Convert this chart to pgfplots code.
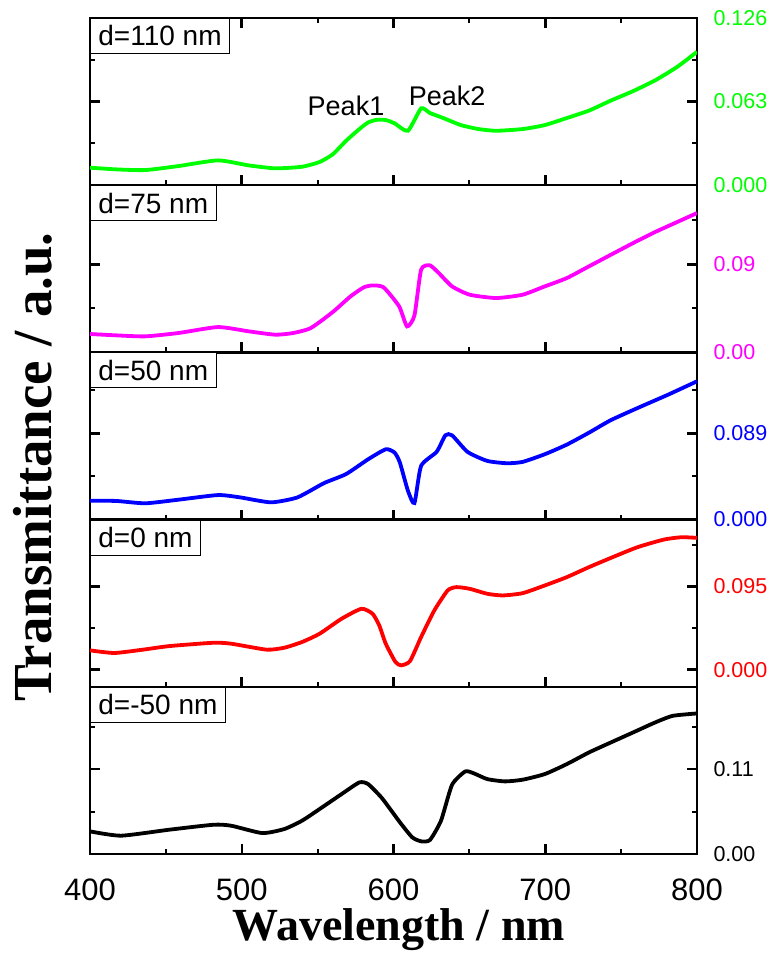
\documentclass[border=0pt]{standalone}
\usepackage{pgfplots}
\pgfplotsset{compat=1.18}
\usepackage{fontspec}
\setmainfont{Liberation Sans}
\newfontfamily\timesf{Liberation Serif}
\definecolor{cgreen}{RGB}{0,255,0}
\definecolor{cmag}{RGB}{255,0,255}
\definecolor{cblue}{RGB}{0,0,255}
\definecolor{cred}{RGB}{255,0,0}
\pgfplotsset{panel/.style={
  width=607pt, height=167.2pt, scale only axis,
  anchor=south west,
  xmin=400, xmax=800,
  axis line style={line width=2.5pt},
  tick align=inside,
  xtick={400,500,600,700,800}, minor x tick num=1,
  minor y tick num=1,
  xtick pos=left,
  ytick pos=both, yticklabel pos=right,
  xticklabels={},
  major tick length=10pt, minor tick length=5pt,
  major tick style={line width=2.5pt, black},
  minor tick style={line width=2pt, black},
  yticklabel style={font=\fontsize{21.5}{24}\selectfont, xshift=13pt},
  every axis plot/.append style={line width=3.8pt, smooth, tension=0.35},
}}
\tikzset{legbox/.style={draw, line width=0.8pt, fill=white, anchor=north west,
  font=\fontsize{28}{30}\selectfont, inner xsep=8pt, inner ysep=4pt, minimum height=35pt}}
\begin{document}
\begin{tikzpicture}
\useasboundingbox (-90pt,-99pt) rectangle (685pt,854pt);
% panel 1 (top)
\begin{axis}[panel, at={(0pt,668.8pt)}, ymin=0, ymax=0.126,
  xtick pos=both,
  ytick={0,0.063,0.126}, yticklabels={0.000,0.063,0.126},
  yticklabel style={text=cgreen}]
\addplot[cgreen] coordinates {
(400,0.0132)(417.5,0.0119)(436.4,0.0114)(458.2,0.0144)(484.4,0.0187)(504.7,0.0149)
(522.2,0.0127)(539.7,0.0139)(551.3,0.0175)(560.0,0.0233)(568.7,0.0334)(577.5,0.0423)
(583.3,0.0473)(589.1,0.0493)(594.9,0.0491)(600.7,0.0466)(609.5,0.0410)(618.2,0.0579)
(624.0,0.0544)(632.8,0.0506)(644.4,0.0453)(656.0,0.0423)(667.7,0.0410)(685.1,0.0423)
(699.7,0.0453)(714.2,0.0506)(728.8,0.0562)(743.3,0.0638)(757.9,0.0709)(772.4,0.0790)
(786.9,0.0891)(800,0.1005)};
\node[legbox] at (rel axis cs:0,1) {d=110 nm};
\node[anchor=base, font=\fontsize{27}{30}\selectfont] at (axis cs:568.7,0.0524) {Peak1};
\node[anchor=base, font=\fontsize{27}{30}\selectfont] at (axis cs:635.3,0.0600) {Peak2};
\end{axis}
% panel 2
\begin{axis}[panel, at={(0pt,501.6pt)}, ymin=0, ymax=0.171,
  ytick={0,0.09,0.18}, yticklabels={0.00,0.09,0.18},
  yticklabel style={text=cmag}]
\addplot[cmag] coordinates {
(400,0.0188)(417.5,0.0174)(436.4,0.0164)(458.2,0.0198)(484.4,0.0259)(504.7,0.0215)
(522.2,0.0181)(533.8,0.0198)(545.5,0.0249)(560.0,0.0413)(571.7,0.0573)(580.4,0.0665)
(586.2,0.0685)(593.5,0.0665)(603.7,0.0471)(608.9,0.0266)(613.8,0.0378)(618.2,0.0846)
(624.0,0.0890)(629.8,0.0812)(638.6,0.0675)(650.2,0.0590)(667.7,0.0556)(685.1,0.0590)
(699.7,0.0675)(714.2,0.0760)(728.8,0.0880)(743.3,0.0999)(757.9,0.1118)(772.4,0.1231)
(786.9,0.1333)(800,0.1425)};
\node[legbox] at (rel axis cs:0,1) {d=75 nm};
\end{axis}
% panel 3
\begin{axis}[panel, at={(0pt,334.4pt)}, ymin=0, ymax=0.1724,
  ytick={0,0.089,0.178}, yticklabels={0.000,0.089,0.178},
  yticklabel style={text=cblue}]
\addplot[cblue] coordinates {
(400,0.0195)(417.5,0.0192)(436.4,0.0168)(458.2,0.0205)(484.4,0.0253)(498.9,0.0229)
(519.3,0.0178)(536.7,0.0229)(554.2,0.0376)(568.7,0.0469)(583.3,0.0622)(594.9,0.0725)
(600.7,0.0691)(604.2,0.0588)(609.5,0.0298)(613.8,0.0171)(618.2,0.0554)(628.4,0.0698)
(634.2,0.0869)(638.6,0.0869)(648.8,0.0698)(661.8,0.0605)(674.9,0.0581)(685.1,0.0595)
(699.7,0.0674)(714.2,0.0773)(728.8,0.0896)(743.3,0.1026)(763.7,0.1170)(781.1,0.1289)
(800,0.1426)};
\node[legbox] at (rel axis cs:0,1) {d=50 nm};
\end{axis}
% panel 4
\begin{axis}[panel, at={(0pt,167.2pt)}, ymin=-0.0195, ymax=0.1714,
  ytick={0,0.095,0.19}, yticklabels={0.000,0.095,0.190},
  yticklabel style={text=cred}]
\addplot[cred] coordinates {
(400,0.0221)(416.0,0.0191)(434.9,0.0229)(452.4,0.0270)(481.5,0.0308)(493.1,0.0297)
(516.4,0.0229)(528.0,0.0251)(539.7,0.0316)(551.3,0.0411)(565.8,0.0582)(578.9,0.0696)
(586.2,0.0639)(590.6,0.0506)(594.9,0.0297)(601.3,0.0088)(605.1,0.0050)(610.9,0.0099)
(618.2,0.0373)(626.9,0.0677)(635.7,0.0905)(641.5,0.0943)(650.2,0.0924)(661.8,0.0867)
(672.0,0.0848)(685.1,0.0874)(699.7,0.0962)(714.2,0.1057)(728.8,0.1171)(743.3,0.1277)
(760.8,0.1399)(778.2,0.1486)(789.9,0.1513)(800,0.1505)};
\node[legbox] at (rel axis cs:0,1) {d=0 nm};
\end{axis}
% panel 5 (bottom)
\begin{axis}[panel, at={(0pt,0pt)}, ymin=0, ymax=0.2165,
  ytick={0,0.11,0.22}, yticklabels={0.00,0.11,0.22},
  xticklabels={400,500,600,700,800},
  xticklabel style={font=\fontsize{31}{34}\selectfont, yshift=-21pt}]
\addplot[black] coordinates {
(400,0.0293)(420.4,0.0237)(452.4,0.0315)(481.5,0.0379)(493.1,0.0366)(513.5,0.0271)
(528.0,0.0323)(539.7,0.0431)(551.3,0.0582)(565.8,0.0776)(577.5,0.0927)(583.3,0.0905)
(592.0,0.0733)(597.8,0.0582)(605.1,0.0388)(612.4,0.0215)(618.2,0.0164)(624.0,0.0181)
(631.3,0.0431)(638.6,0.0897)(647.3,0.1069)(653.1,0.1043)(661.8,0.0970)(673.5,0.0940)
(685.1,0.0962)(699.7,0.1035)(714.2,0.1164)(728.8,0.1315)(743.3,0.1445)(757.9,0.1574)
(772.4,0.1703)(784.0,0.1789)(800,0.1820)};
\node[legbox] at (rel axis cs:0,1) {d=-50 nm};
\end{axis}
\node[rotate=90, anchor=base, font=\timesf\bfseries\fontsize{55}{60}\selectfont] at (-38pt,387pt) {Transmittance / a.u.};
\node[anchor=base, font=\timesf\bfseries\fontsize{46}{50}\selectfont] at (309pt,-86pt) {Wavelength / nm};
\end{tikzpicture}
\end{document}
